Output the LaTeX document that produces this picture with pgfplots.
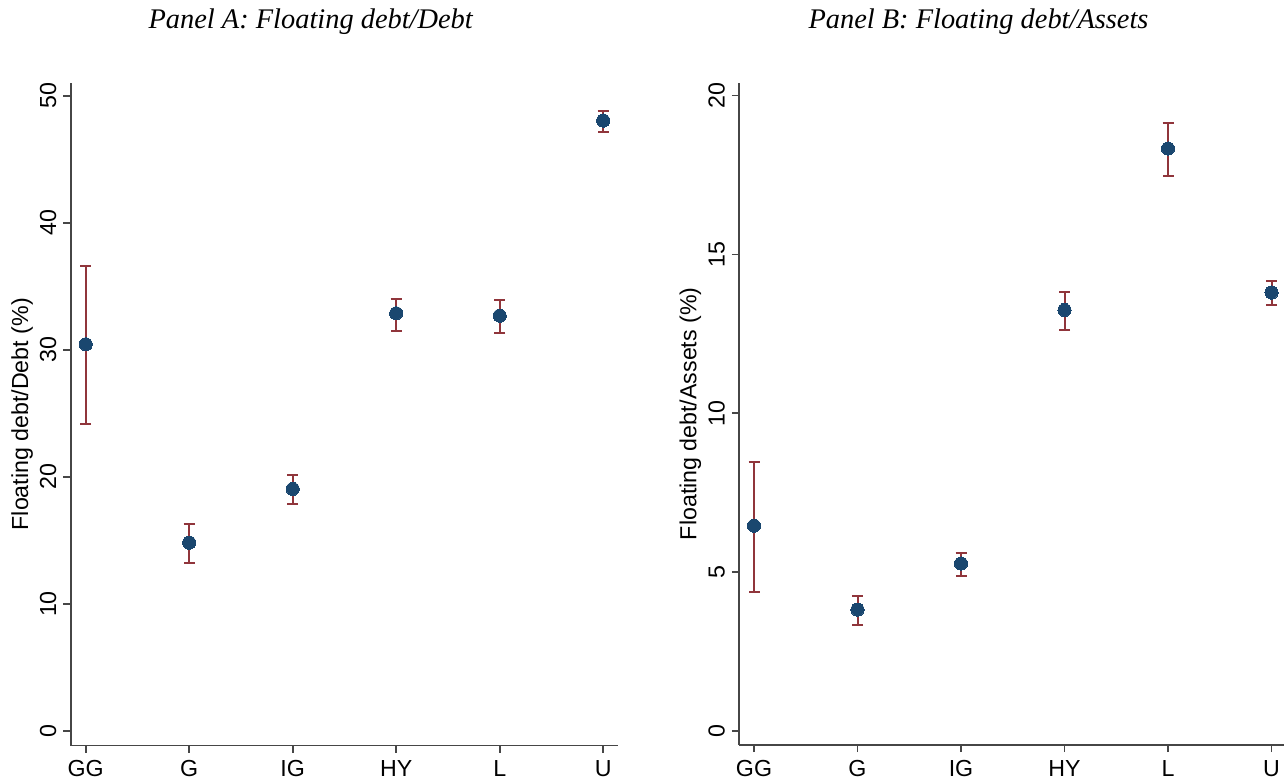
\documentclass[border=0pt]{standalone}
\usepackage{pgfplots}
\pgfplotsset{compat=1.18}
\usepackage{pgfplotstable}
\usepackage{fontspec}
\setmainfont{Liberation Sans}
\newfontfamily\titlefont{Liberation Serif}
\definecolor{navy}{HTML}{1A476F}
\definecolor{maroon}{RGB}{144,53,59}
\definecolor{axgray}{RGB}{70,70,70}

\pgfplotstableread{
x y lo hi
0 30.45 24.20 36.60
1 14.83 13.25 16.27
2 19.06 17.85 20.16
3 32.89 31.50 34.02
4 32.70 31.31 33.94
5 48.06 47.14 48.84
}\panelA

\pgfplotstableread{
x y lo hi
0 6.46 4.37 8.48
1 3.82 3.33 4.26
2 5.27 4.89 5.59
3 13.25 12.61 13.82
4 18.33 17.46 19.13
5 13.80 13.41 14.16
}\panelB

\pgfplotsset{
  panel/.style={
    scale only axis, anchor=south west,
    width=273.5pt,
    axis x line*=bottom, axis y line*=left,
    axis line style={axgray, line width=0.9pt},
    tick style={axgray, line width=0.9pt},
    tick align=outside, major tick length=3.6pt,
    xtick={0,...,5}, xticklabels={GG,G,IG,HY,L,U},
    xmin=-0.145, xmax=5.14,
    tick label style={font=\fontsize{11.6}{12}\selectfont, text=black},
    /pgf/number format/assume math mode=true,
    yticklabel style={rotate=90, anchor=south},
    xticklabel style={anchor=north, yshift=-0.5pt},
    ylabel style={font=\fontsize{11.6}{12}\selectfont, at={(axis description cs:-0.078,0.5)}, anchor=base, rotate=0},
    clip=false,
  },
  dots/.style={only marks, mark=*, mark size=3.3pt, color=navy, mark options={fill=navy, draw=navy, line width=0pt}},
  bars/.style={draw=none, mark=none, forget plot,
    error bars/.cd, y dir=both, y explicit,
    error bar style={draw=maroon, line width=1pt},
    error mark options={draw=maroon, line width=1pt, mark size=2.75pt, rotate=90}},
}

\begin{document}
\begin{tikzpicture}
\useasboundingbox (0,0) rectangle (642pt,389pt);

\node[font=\titlefont\itshape\fontsize{14.2}{16}\selectfont, anchor=base] at (155.35pt,374.6pt) {Panel A: Floating debt/Debt};
\node[font=\titlefont\itshape\fontsize{14.2}{16}\selectfont, anchor=base] at (489.25pt,374.6pt) {Panel B: Floating debt/Assets};

\begin{axis}[panel, at={(35.35pt,16.25pt)}, height=331.25pt,
  ymin=-1.14, ymax=51.02, ytick={0,10,...,50},
  ylabel={Floating debt/Debt (\%)}]
\addplot[dots] table[x=x, y=y] {\panelA};
\addplot[bars] table[x=x, y=y, y error plus expr=\thisrow{hi}-\thisrow{y}, y error minus expr=\thisrow{y}-\thisrow{lo}] {\panelA};
\end{axis}

\begin{axis}[panel, at={(369.5pt,16.5pt)}, height=331.25pt,
  ymin=-0.44, ymax=20.41, ytick={0,5,...,20},
  ylabel={Floating debt/Assets (\%)}]
\addplot[dots] table[x=x, y=y] {\panelB};
\addplot[bars] table[x=x, y=y, y error plus expr=\thisrow{hi}-\thisrow{y}, y error minus expr=\thisrow{y}-\thisrow{lo}] {\panelB};
\end{axis}
\end{tikzpicture}
\end{document}
